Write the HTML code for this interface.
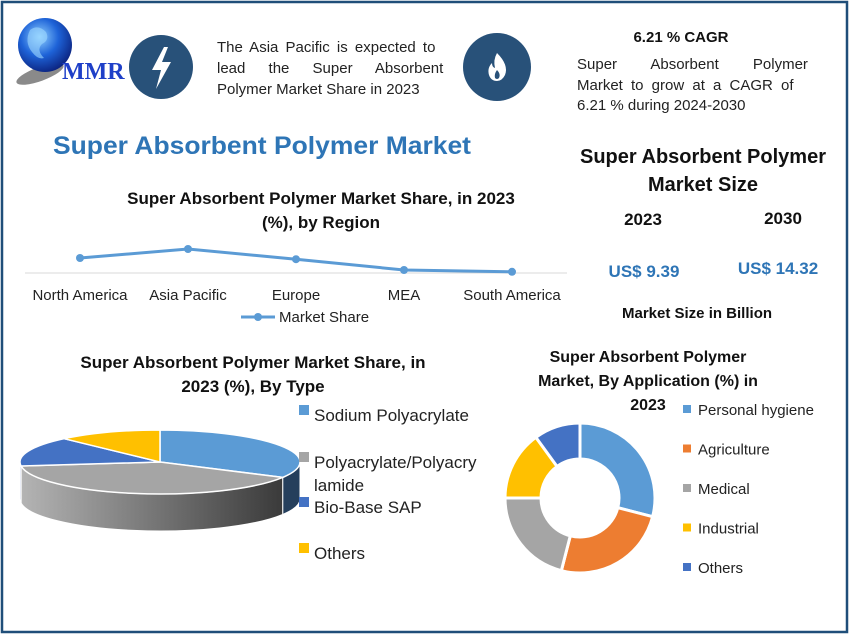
<!DOCTYPE html>
<html><head><meta charset="utf-8"><style>
html,body{margin:0;padding:0;background:#fff;}
svg{display:block;font-family:"Liberation Sans",sans-serif;}
</style></head><body>
<svg id="root" width="849" height="634" viewBox="0 0 849 634" xmlns="http://www.w3.org/2000/svg">
<defs>
<radialGradient id="globe" cx="40%" cy="35%" r="70%"><stop offset="0" stop-color="#8fd0ff"/><stop offset="0.5" stop-color="#1e63d8"/><stop offset="1" stop-color="#0a1f7a"/></radialGradient>
<linearGradient id="graySide" x1="0" x2="1" y1="0" y2="0"><stop offset="0" stop-color="#b4b4b4"/><stop offset="1" stop-color="#3a3a3a"/></linearGradient>
</defs>
<rect x="2" y="2" width="845" height="630" fill="#fff" stroke="#1f4e79" stroke-width="2.5"/>

<g>
<ellipse cx="40" cy="74" rx="25" ry="7" fill="#8a8a8a" transform="rotate(-20 40 74)"/>
<circle cx="45" cy="45" r="27" fill="url(#globe)"/>
<path d="M30 30 q8 -6 16 2 q4 8 -4 12 q-6 6 2 14 q-6 2 -12 -6 q-8 -10 -2 -22z" fill="#9fd8ff" opacity="0.6"/>
<text x="62" y="79" font-family="Liberation Serif,serif" font-weight="bold" font-size="24" fill="#1e3fc8">MMR</text>
</g>

<g>
<circle cx="161" cy="67" r="32" fill="#285179"/>
<path d="M164 47 L152 70 L161 70 L156 89 L171 62 L162 62 L168 47Z" fill="#fff"/>
</g>
<g font-size="15" fill="#222">
<text x="217" y="52" word-spacing="3">The Asia Pacific is expected to</text>
<text x="217" y="73" word-spacing="19">lead the Super Absorbent</text>
<text x="217" y="94">Polymer Market Share in 2023</text>
</g>
<g>
<circle cx="497" cy="67" r="34" fill="#285179"/>
<path d="M497 53 q12 12 8 22 q-3 6 -8 6 q-6 0 -8 -6 q-2 -7 3 -12 q0 4 3 5 q-2 -8 2 -15z" fill="#fff"/>
<path d="M497 70 q4 4 2 8 q-2 2 -4 0 q-1 -4 2 -8z" fill="#285179"/>
</g>

<text x="681" y="42" text-anchor="middle" font-weight="bold" font-size="15" fill="#111">6.21 % CAGR</text>
<g font-size="15" fill="#222">
<text x="577" y="69" word-spacing="30">Super Absorbent Polymer</text>
<text x="577" y="90" word-spacing="4">Market to grow at a CAGR of</text>
<text x="577" y="110">6.21 % during 2024-2030</text>
</g>

<text x="53" y="154" font-weight="bold" font-size="25" fill="#2e75b6" textLength="418" lengthAdjust="spacingAndGlyphs">Super Absorbent Polymer Market</text>

<g font-weight="bold" text-anchor="middle">
<text x="703" y="163" font-size="20" fill="#111">Super Absorbent Polymer</text>
<text x="703" y="191" font-size="20" fill="#111">Market Size</text>
<text x="643" y="225" font-size="17" fill="#111">2023</text>
<text x="783" y="224" font-size="17" fill="#111">2030</text>
<text x="644" y="277" font-size="17" fill="#2e75b6">US$ 9.39</text>
<text x="778" y="274" font-size="17" fill="#2e75b6">US$ 14.32</text>
<text x="697" y="318" font-size="15" fill="#111">Market Size in Billion</text>
</g>

<g>
<text x="321" y="204" text-anchor="middle" font-weight="bold" font-size="17" fill="#111">Super Absorbent Polymer Market Share, in 2023</text>
<text x="321" y="228" text-anchor="middle" font-weight="bold" font-size="17" fill="#111">(%), by Region</text>
<line x1="25" y1="273" x2="567" y2="273" stroke="#d9d9d9" stroke-width="1"/>
<g id="lineMarks"></g>
<g id="lineLabels" font-size="15" fill="#222" text-anchor="middle"></g>
<g>
<line x1="241" y1="317" x2="275" y2="317" stroke="#5b9bd5" stroke-width="3"/>
<circle cx="258" cy="317" r="4" fill="#5b9bd5"/>
<text x="279" y="322" font-size="15" fill="#222">Market Share</text>
</g>
</g>

<g>
<text x="253" y="368" text-anchor="middle" font-weight="bold" font-size="17" fill="#111">Super Absorbent Polymer Market Share, in</text>
<text x="253" y="392" text-anchor="middle" font-weight="bold" font-size="17" fill="#111">2023 (%), By Type</text>
<g id="pieSides"></g>
<g id="pieTops"></g>
<g id="pieLegend" font-size="17" fill="#222"></g>
</g>

<g>
<text x="648" y="362" text-anchor="middle" font-weight="bold" font-size="16" fill="#111">Super Absorbent Polymer</text>
<text x="648" y="386" text-anchor="middle" font-weight="bold" font-size="16" fill="#111">Market, By Application (%) in</text>
<text x="648" y="410" text-anchor="middle" font-weight="bold" font-size="16" fill="#111">2023</text>
<g id="donut"></g>
<g id="donutLegend" font-size="15" fill="#222"></g>
</g>
</svg>
<script>
const regions = ["North America","Asia Pacific","Europe","MEA","South America"];
const regionShare = [25, 40, 23, 5, 2];
const types = ["Sodium Polyacrylate","Polyacrylate/Polyacry|lamide","Bio-Base SAP","Others"];
const typeShare = [33, 40, 15, 12];
const apps = ["Personal hygiene","Agriculture","Medical","Industrial","Others"];
const appShare = [29, 25, 21, 15, 10];

const NS = "http://www.w3.org/2000/svg";
function mk(tag, attrs, parent){ const e=document.createElementNS(NS,tag); for(const k in attrs) e.setAttribute(k,attrs[k]); parent.appendChild(e); return e; }

// line chart
const xL = i => 80 + i*108;
const yL = v => 273 - v*0.6;
const lm = document.getElementById('lineMarks');
let d = regionShare.map((v,i)=>(i?'L':'M')+xL(i)+' '+yL(v)).join(' ');
const pl = mk('path',{d:d,fill:'none',stroke:'#5b9bd5','stroke-width':3},lm);


regionShare.forEach((v,i)=>{
  const c = mk('circle',{cx:xL(i),cy:yL(v),r:4,fill:'#5b9bd5'},lm);
  
  
  const t = mk('text',{x:xL(i),y:300},document.getElementById('lineLabels'));
  t.textContent = regions[i];
  
  
});

// 3D pie
const cx=160, cy=462, rx=140, ry=32, depth=37;
const topCol=["#5b9bd5","#a5a5a5","#4472c4","#ffc000"];
const sideCol=["#253f5c","url(#graySide)","#3a5fb0","#b08400"];
const P=(t,dy)=>[cx+rx*Math.cos(t), cy+ry*Math.sin(t)+(dy||0)];
const total = typeShare.reduce((a,b)=>a+b,0);
let a0 = -Math.PI/2;
const sides=document.getElementById('pieSides'), tops=document.getElementById('pieTops');
typeShare.forEach((v,i)=>{
  const a1 = a0 + v/total*2*Math.PI;
  for(const off of [0, 2*Math.PI, -2*Math.PI]){
    const s=Math.max(a0, off), e=Math.min(a1, off+Math.PI);
    if(e>s){
      const p1=P(s), p2=P(e), p3=P(e,depth), p4=P(s,depth);
      const sd='M'+p1+' A'+rx+' '+ry+' 0 0 1 '+p2+' L'+p3+' A'+rx+' '+ry+' 0 0 0 '+p4+' Z';
      const sp=mk('path',{d:sd,fill:sideCol[i],stroke:'#fff','stroke-width':1},sides);
      
      
    }
  }
  const q1=P(a0), q2=P(a1);
  const large=(a1-a0)>Math.PI?1:0;
  const td='M'+cx+' '+cy+' L'+q1+' A'+rx+' '+ry+' 0 '+large+' 1 '+q2+' Z';
  const tp=mk('path',{d:td,fill:topCol[i],stroke:'#fff','stroke-width':1.5},tops);
  
  
  a0=a1;
});
const legY=[415,462,507,553];
const pleg=document.getElementById('pieLegend');
types.forEach((n,i)=>{
  const r=mk('rect',{x:299,y:legY[i]-10,width:10,height:10,fill:topCol[i]},pleg);
  
  
  const parts=n.split('|');
  parts.forEach((p,j)=>{
    const t=mk('text',{x:314,y:legY[i]+6+j*23},pleg);
    t.textContent=p;
    
    
  });
});

// donut
const dcx=580, dcy=498, ro=75, ri=39;
const dCol=["#5b9bd5","#ed7d31","#a5a5a5","#ffc000","#4472c4"];
const dg=document.getElementById('donut');
const dTot=appShare.reduce((a,b)=>a+b,0);
let b0=-Math.PI/2;
const PP=(r,t)=>[dcx+r*Math.cos(t), dcy+r*Math.sin(t)];
appShare.forEach((v,i)=>{
  const b1=b0+v/dTot*2*Math.PI;
  const lg=(b1-b0)>Math.PI?1:0;
  const dd='M'+PP(ro,b0)+' A'+ro+' '+ro+' 0 '+lg+' 1 '+PP(ro,b1)+' L'+PP(ri,b1)+' A'+ri+' '+ri+' 0 '+lg+' 0 '+PP(ri,b0)+' Z';
  const p=mk('path',{d:dd,fill:dCol[i],stroke:'#fff','stroke-width':3},dg);
  
  
  b0=b1;
});
const dl=document.getElementById('donutLegend');
apps.forEach((n,i)=>{
  const y=410+i*39.5;
  const r=mk('rect',{x:683,y:y-5,width:8,height:8,fill:dCol[i]},dl);
  
  
  const t=mk('text',{x:698,y:y+5},dl);
  t.textContent=n;
  
  
});
</script>
</body></html>
